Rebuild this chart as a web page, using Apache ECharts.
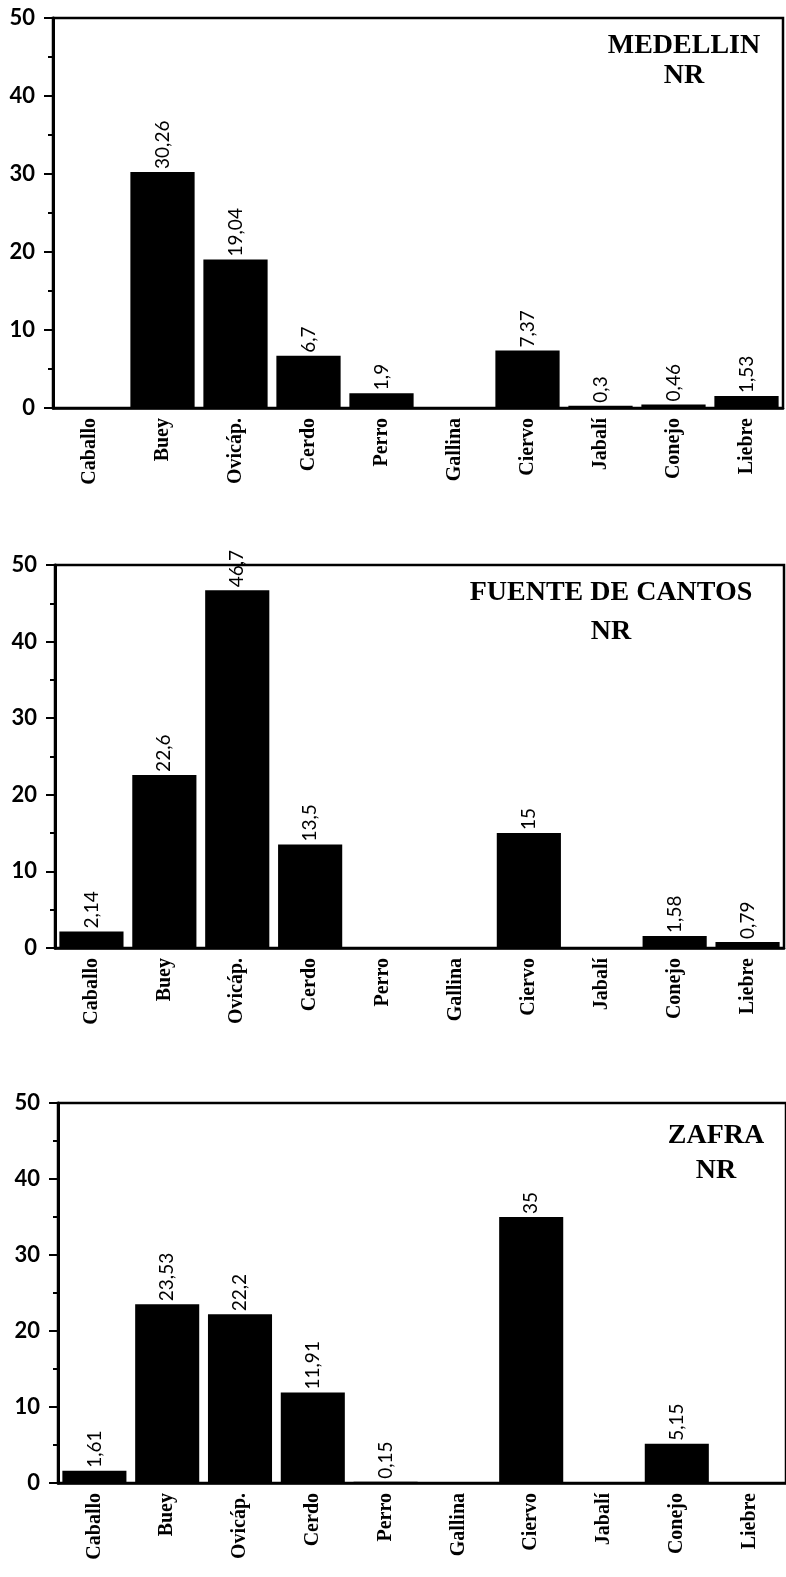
<!DOCTYPE html>
<html>
<head>
<meta charset="utf-8">
<script src="https://cdn.jsdelivr.net/npm/echarts@6/dist/echarts.min.js"></script>
<style>
  body{margin:0;background:#fff;}
  #chart{width:786px;height:1577px;}
</style>
</head>
<body>
<div id="chart"></div>
<script>
var categories = ['Caballo','Buey','Ovicáp.','Cerdo','Perro','Gallina','Ciervo','Jabalí','Conejo','Liebre'];
var medellin = [0, 30.26, 19.04, 6.7, 1.9, 0, 7.37, 0.3, 0.46, 1.53];
var fuente = [2.14, 22.6, 46.7, 13.5, 0, 0, 15, 0, 1.58, 0.79];
var zafra = [1.61, 23.53, 22.2, 11.91, 0.15, 0, 35, 0, 5.15, 0];
var titles = ['MEDELLIN\nNR', 'FUENTE DE CANTOS\nNR', 'ZAFRA\nNR'];
var yTicks = [0, 10, 20, 30, 40, 50];

var grids = [
  {left:53, top:18, width:730, height:390},
  {left:55, top:565, width:729, height:383},
  {left:58, top:1103, width:734, height:380}
];
var titlePos = [[684, 31, 30], [611, 573, 39], [716, 1118, 35]];
var seriesData = [medellin, fuente, zafra];

var option = {
  animation:false,
  backgroundColor:'#fff',
  title:[],
  grid:[],
  xAxis:[],
  yAxis:[],
  series:[]
};

for(var i=0;i<3;i++){
  option.title.push({
    text:titles[i],
    left:titlePos[i][0],
    top:titlePos[i][1],
    textAlign:'center',
    padding:0,
    textStyle:{fontFamily:'Liberation Serif',fontWeight:'bold',fontSize:28,lineHeight:titlePos[i][2],color:'#000'}
  });
  option.grid.push({
    left:grids[i].left, top:grids[i].top, width:grids[i].width, height:grids[i].height,
    show:true, borderColor:'#000', borderWidth:2.5, backgroundColor:'transparent'
  });
  option.xAxis.push({
    type:'category', gridIndex:i, data:categories,
    axisLine:{lineStyle:{color:'#000',width:2.5}},
    axisTick:{length:5,lineStyle:{color:'#000',width:2}},
    axisLabel:{rotate:90,interval:0,margin:10,fontFamily:'Liberation Serif',fontWeight:'bold',fontSize:20,color:'#000'}
  });
  option.yAxis.push({
    type:'value', gridIndex:i, min:yTicks[0], max:yTicks[yTicks.length-1], interval:10,
    axisLine:{show:true,lineStyle:{color:'#000',width:3}},
    axisTick:{show:true,length:9,lineStyle:{color:'#000',width:2}},
    minorTick:{show:true,splitNumber:2,length:5,lineStyle:{color:'#000',width:2}},
    splitLine:{show:false},
    axisLabel:{margin:18,fontFamily:'Lato',fontWeight:'bold',fontSize:22,color:'#000'}
  });
  option.series.push({
    type:'bar', xAxisIndex:i, yAxisIndex:i,
    data:seriesData[i],
    barCategoryGap:'12%',
    itemStyle:{color:'#000'},
    label:{
      show:true, position:'top', rotate:90, align:'left', verticalAlign:'middle', distance:3,
      fontFamily:'Lato', fontSize:19, color:'#000',
      formatter:function(p){
        if(p.value==0) return '';
        return String(p.value).replace('.', ',');
      }
    }
  });
}

var myChart = echarts.init(document.getElementById('chart'));
myChart.setOption(option);
</script>
</body>
</html>
